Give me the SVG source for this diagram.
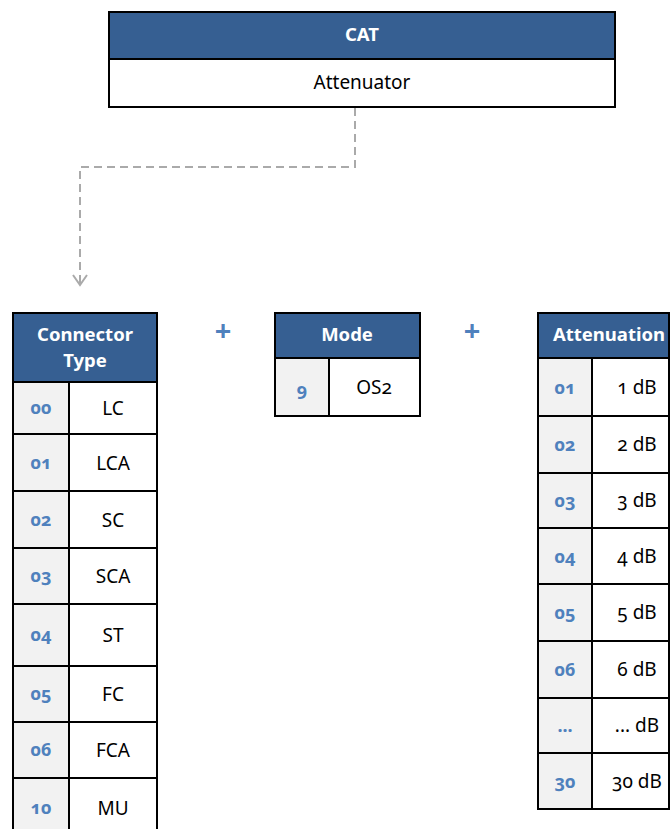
<svg xmlns="http://www.w3.org/2000/svg" width="670" height="829" viewBox="0 0 670 829">
<style>
.hdr{fill:#365f92}
.code{fill:#f2f2f2}
.frame{fill:none;stroke:#000;stroke-width:2}
.ln{stroke:#000;stroke-width:2}
.ht{font-family:"Noto Sans","Open Sans",sans-serif;font-weight:bold;font-size:18.5px;fill:#fff;text-anchor:middle}
.bt{font-family:"Noto Sans","Open Sans",sans-serif;font-size:19px;fill:#000;text-anchor:middle;font-variant-numeric:oldstyle-nums}
.ct{font-family:"Noto Sans","Open Sans",sans-serif;font-weight:bold;font-size:18px;fill:#4f81bd;text-anchor:middle;font-variant-numeric:oldstyle-nums}
.plus{font-family:"Noto Sans","Open Sans",sans-serif;font-weight:bold;font-size:29px;fill:#4f81bd;text-anchor:middle}
.conn{fill:none;stroke:#aaaaaa;stroke-width:2;stroke-dasharray:8 5}
</style>
<rect width="670" height="829" fill="#fff"/>
<g id="cat">
<rect x="109" y="12" width="506" height="47" class="hdr"/>
<rect x="109" y="12" width="506" height="95" class="frame"/>
<line x1="109" y1="59" x2="615" y2="59" class="ln"/>
<text x="362" y="41" class="ht">CAT</text>
<text x="362" y="89" class="bt">Attenuator</text>
</g>
<g id="connectors">
<path d="M355,108 V167 H80 V284" class="conn"/>
<path d="M73,275 L80,285 L87,275" fill="none" stroke="#aaaaaa" stroke-width="2"/>
</g>
<g id="connector-type">
<rect x="13" y="313" width="144" height="69" class="hdr"/>
<rect x="13" y="382" width="56" height="460" class="code"/>
<rect x="13" y="313" width="144" height="530" class="frame"/>
<line x1="69" y1="382" x2="69" y2="843" class="ln"/>
<line x1="13" y1="382" x2="157" y2="382" class="ln"/>
<line x1="13" y1="434" x2="157" y2="434" class="ln"/>
<line x1="13" y1="491" x2="157" y2="491" class="ln"/>
<line x1="13" y1="548" x2="157" y2="548" class="ln"/>
<line x1="13" y1="604" x2="157" y2="604" class="ln"/>
<line x1="13" y1="666" x2="157" y2="666" class="ln"/>
<line x1="13" y1="722" x2="157" y2="722" class="ln"/>
<line x1="13" y1="778" x2="157" y2="778" class="ln"/>
<text x="85" y="341" class="ht">Connector</text>
<text x="85" y="367" class="ht">Type</text>
<text x="41" y="414" class="ct">00</text><text x="113" y="415" class="bt">LC</text>
<text x="41" y="469" class="ct">01</text><text x="113" y="470" class="bt">LCA</text>
<text x="41" y="526" class="ct">02</text><text x="113" y="527" class="bt">SC</text>
<text x="41" y="582" class="ct">03</text><text x="113" y="583" class="bt">SCA</text>
<text x="41" y="641" class="ct">04</text><text x="113" y="642" class="bt">ST</text>
<text x="41" y="700" class="ct">05</text><text x="113" y="701" class="bt">FC</text>
<text x="41" y="756" class="ct">06</text><text x="113" y="757" class="bt">FCA</text>
<text x="41" y="814" class="ct">10</text><text x="113" y="815" class="bt">MU</text>
</g>
<text x="223" y="341" class="plus">+</text>
<g id="mode">
<rect x="275" y="313" width="145" height="45" class="hdr"/>
<rect x="275" y="358" width="54" height="58" class="code"/>
<rect x="275" y="313" width="145" height="103" class="frame"/>
<line x1="275" y1="358" x2="420" y2="358" class="ln"/>
<line x1="329" y1="358" x2="329" y2="416" class="ln"/>
<text x="347" y="341" class="ht">Mode</text>
<text x="302" y="396" class="ct">9</text>
<text x="374" y="394" class="bt">OS2</text>
</g>
<text x="472" y="341" class="plus">+</text>
<g id="attenuation">
<rect x="538" y="313" width="140" height="45" class="hdr"/>
<rect x="538" y="358" width="54" height="451" class="code"/>
<rect x="538" y="313" width="131" height="496" class="frame"/>
<line x1="592" y1="358" x2="592" y2="809" class="ln"/>
<line x1="538" y1="358" x2="670" y2="358" class="ln"/>
<line x1="538" y1="416" x2="670" y2="416" class="ln"/>
<line x1="538" y1="473" x2="670" y2="473" class="ln"/>
<line x1="538" y1="528" x2="670" y2="528" class="ln"/>
<line x1="538" y1="584" x2="670" y2="584" class="ln"/>
<line x1="538" y1="641" x2="670" y2="641" class="ln"/>
<line x1="538" y1="698" x2="670" y2="698" class="ln"/>
<line x1="538" y1="753" x2="670" y2="753" class="ln"/>
<text x="609" y="341" class="ht">Attenuation</text>
<text x="565" y="394" class="ct">01</text><text x="637" y="394" class="bt">1 dB</text>
<text x="565" y="451" class="ct">02</text><text x="637" y="451" class="bt">2 dB</text>
<text x="565" y="507" class="ct">03</text><text x="637" y="507" class="bt">3 dB</text>
<text x="565" y="563" class="ct">04</text><text x="637" y="563" class="bt">4 dB</text>
<text x="565" y="619" class="ct">05</text><text x="637" y="619" class="bt">5 dB</text>
<text x="565" y="676" class="ct">06</text><text x="637" y="676" class="bt">6 dB</text>
<text x="565" y="732" class="ct">...</text><text x="637" y="732" class="bt">... dB</text>
<text x="565" y="788" class="ct">30</text><text x="637" y="788" class="bt">30 dB</text>
</g>
</svg>
